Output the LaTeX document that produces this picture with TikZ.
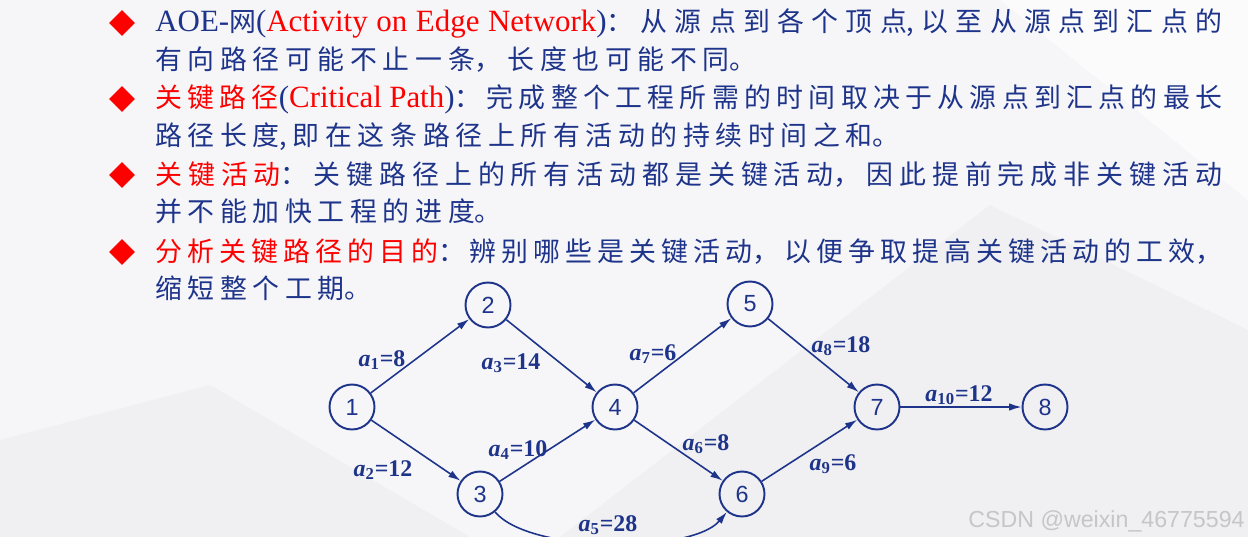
\documentclass[tikz,border=0pt]{standalone}
\usepackage{fontspec}
\setmainfont{Liberation Serif}
\newfontfamily\cjk{Noto Sans CJK SC}[Scale=0.87]
\newfontfamily\numfont{Liberation Sans}
\usetikzlibrary{arrows.meta,shapes.geometric}
\XeTeXlinebreaklocale "zh"
\XeTeXlinebreakskip=3.2pt plus 4pt minus 1.5pt
\definecolor{tb}{RGB}{30,52,138}
\definecolor{hr}{RGB}{255,0,0}
\definecolor{bgA}{RGB}{246,246,248}
\definecolor{bgB}{RGB}{240,240,243}
\definecolor{wmc}{RGB}{198,198,198}
\newcommand\R[1]{\textcolor{hr}{#1}}
\newcommand\C[1]{{\cjk #1}}
\tikzset{
  para/.style={anchor=base west, inner sep=0pt, text width=21.34cm, align=justify,
    text=tb, font=\fontsize{17.6pt}{21.54pt}\selectfont},
  bul/.style={diamond, fill=hr, inner sep=0pt, minimum size=0.52cm},
  vert/.style={circle, draw=tb, line width=1.1pt, minimum size=0.9cm, inner sep=0pt,
    text=tb, font=\numfont\fontsize{13.3pt}{15pt}\selectfont},
  edge/.style={draw=tb, line width=0.9pt, -{Latex[length=7pt,width=4.2pt]}},
  lab/.style={anchor=base, inner sep=0pt, text=tb, font=\fontsize{13.6pt}{15pt}\selectfont\bfseries},
}
\newcommand\lbl[2]{\textit{a}\textsubscript{#1}=#2}
\begin{document}
\begin{tikzpicture}[x=0.02cm,y=-0.02cm]
\useasboundingbox (0,0) rectangle (1248,537);
\fill[bgA] (0,0) rectangle (1248,537);
\fill[bgB] (560,537) -- (990,205) -- (1248,330) -- (1248,537) -- cycle;
\fill[bgB] (0,440) -- (210,385) -- (470,537) -- (0,537) -- cycle;
\fill[white,opacity=0.6] (1000,0) -- (1248,0) -- (1248,200) -- cycle;

% bullets
\node[bul] (b1) at (122,23) {};
\node[bul] (b2) at (122,99) {};
\node[bul] (b3) at (122,175) {};
\node[bul] (b4) at (122,252) {};

% paragraphs
\node[para] (p1) at (155,32) {AOE-\C{网}(\R{Activity on Edge Network})\C{：从源点到各个顶点,以至从源点到汇点的}\linebreak\C{有向路径可能不止一条，长度也可能不同。}};
\node[para] (p2) at (155,108) {\R{\C{关键路径}}(\R{Critical Path})\C{：完成整个工程所需的时间取决于从源点到汇点的最长}\linebreak\C{路径长度,即在这条路径上所有活动的持续时间之和。}};
\node[para] (p3) at (155,184) {\R{\C{关键活动}}\C{：关键路径上的所有活动都是关键活动，因此提前完成非关键活动}\linebreak\C{并不能加快工程的进度。}};
\node[para] (p4) at (155,261) {\R{\C{分析关键路径的目的}}\C{：辨别哪些是关键活动，以便争取提高关键活动的工效，}\linebreak\C{缩短整个工期。}};

% graph
\node[vert] (n1) at (352,407) {1};
\node[vert] (n2) at (488,305) {2};
\node[vert] (n3) at (480,494) {3};
\node[vert] (n4) at (615,407) {4};
\node[vert] (n5) at (750,304) {5};
\node[vert] (n6) at (742,494) {6};
\node[vert] (n7) at (877,407) {7};
\node[vert] (n8) at (1045,407) {8};

\draw[edge] (n1) -- (n2);
\draw[edge] (n1) -- (n3);
\draw[edge] (n2) -- (n4);
\draw[edge] (n3) -- (n4);
\draw[edge] (n3) to[out=-50,in=-130,looseness=0.6] (n6);
\draw[edge] (n4) -- (n6);
\draw[edge] (n4) -- (n5);
\draw[edge] (n5) -- (n7);
\draw[edge] (n6) -- (n7);
\draw[edge] (n7) -- (n8);

\node[lab] (l1) at (382,366) {\lbl{1}{8}};
\node[lab] (l2) at (383,476) {\lbl{2}{12}};
\node[lab] (l3) at (511,369) {\lbl{3}{14}};
\node[lab] (l4) at (518,456) {\lbl{4}{10}};
\node[lab] (l5) at (608,531) {\lbl{5}{28}};
\node[lab] (l6) at (706,450) {\lbl{6}{8}};
\node[lab] (l7) at (653,360) {\lbl{7}{6}};
\node[lab] (l8) at (841,352) {\lbl{8}{18}};
\node[lab] (l9) at (833,470) {\lbl{9}{6}};
\node[lab] (l10) at (959,401) {\lbl{10}{12}};

\node[anchor=base east, inner sep=0pt, text=wmc, font=\numfont\fontsize{13.2pt}{15pt}\selectfont] (wm) at (1245,527) {CSDN @weixin\_46775594};
\end{tikzpicture}
\end{document}
